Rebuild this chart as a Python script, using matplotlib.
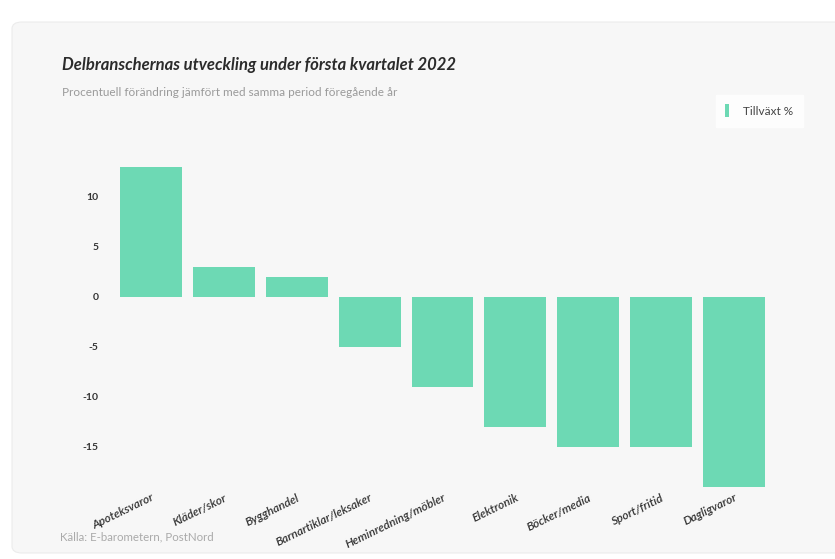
import matplotlib.pyplot as plt
from matplotlib.patches import FancyBboxPatch, Patch

# data
kategorier = ['Apoteksvaror', 'Kläder/skor', 'Bygghandel', 'Barnartiklar/leksaker',
              'Heminredning/möbler', 'Elektronik', 'Böcker/media', 'Sport/fritid', 'Dagligvaror']
tillvaxt = [13, 3, 2, -5, -9, -13, -15, -15, -19]
yticks = [10, 5, 0, -5, -10, -15]

green = '#6dd9b4'
plt.rcParams['font.family'] = ['Lato', 'DejaVu Sans']

W, H = 835, 559
fig = plt.figure(figsize=(W / 100, H / 100), dpi=100)
fig.patch.set_facecolor('white')

# card background
card = FancyBboxPatch((12 / W, 6 / H), 900 / W, 531 / H, boxstyle='round,pad=0,rounding_size=0.012',
                      transform=fig.transFigure, facecolor='#f7f7f7', edgecolor='#ececec', lw=0.8,
                      zorder=-10)
fig.add_artist(card)

ax = fig.add_axes([107 / W, (H - 492) / H, 671 / W, 335 / H])
ax.set_facecolor('none')
x = list(range(len(kategorier)))
ax.bar(x, tillvaxt, width=0.85, color=green)
ax.set_xlim(-0.6, 8.6)
ax.set_ylim(-19.5, 14)
for s in ax.spines.values():
    s.set_visible(False)
ax.set_yticks(yticks)
ax.set_yticklabels([str(t) for t in yticks], fontsize=7.5, fontweight='bold', color='#333333')
ax.tick_params(axis='y', length=0, pad=6)
ax.set_xticks([])
for i, k in enumerate(kategorier):
    ax.text(i, -19.5, k, rotation=26, ha='right', va='top', rotation_mode='anchor',
            fontsize=8.6, fontstyle='italic', fontweight='semibold', color='#333333')

fig.text(62 / W, 1 - 65 / H, 'Delbranschernas utveckling under första kvartalet 2022',
         fontsize=12, fontweight='bold', fontstyle='italic', color='#2b2b2b', va='center')
fig.text(62 / W, 1 - 92 / H, 'Procentuell förändring jämfört med samma period föregående år',
         fontsize=8.5, color='#9a9a9a', va='center')
fig.text(60 / W, 1 - 537 / H, 'Källa: E-barometern, PostNord', fontsize=8.3, color='#aaaaaa', va='center')

leg = fig.legend(handles=[Patch(facecolor=green, label='Tillväxt %')], loc='upper right',
                 bbox_to_anchor=(803 / W, 1 - 95 / H), frameon=True, fontsize=8.5,
                 handlelength=0.35, handleheight=1.3, handletextpad=1.2, borderpad=0.8,
                 borderaxespad=0, fancybox=False)
leg.get_frame().set_facecolor('white')
leg.get_frame().set_edgecolor('white')
for t in leg.get_texts():
    t.set_color('#444444')

fig.savefig('out.png', dpi=100)
